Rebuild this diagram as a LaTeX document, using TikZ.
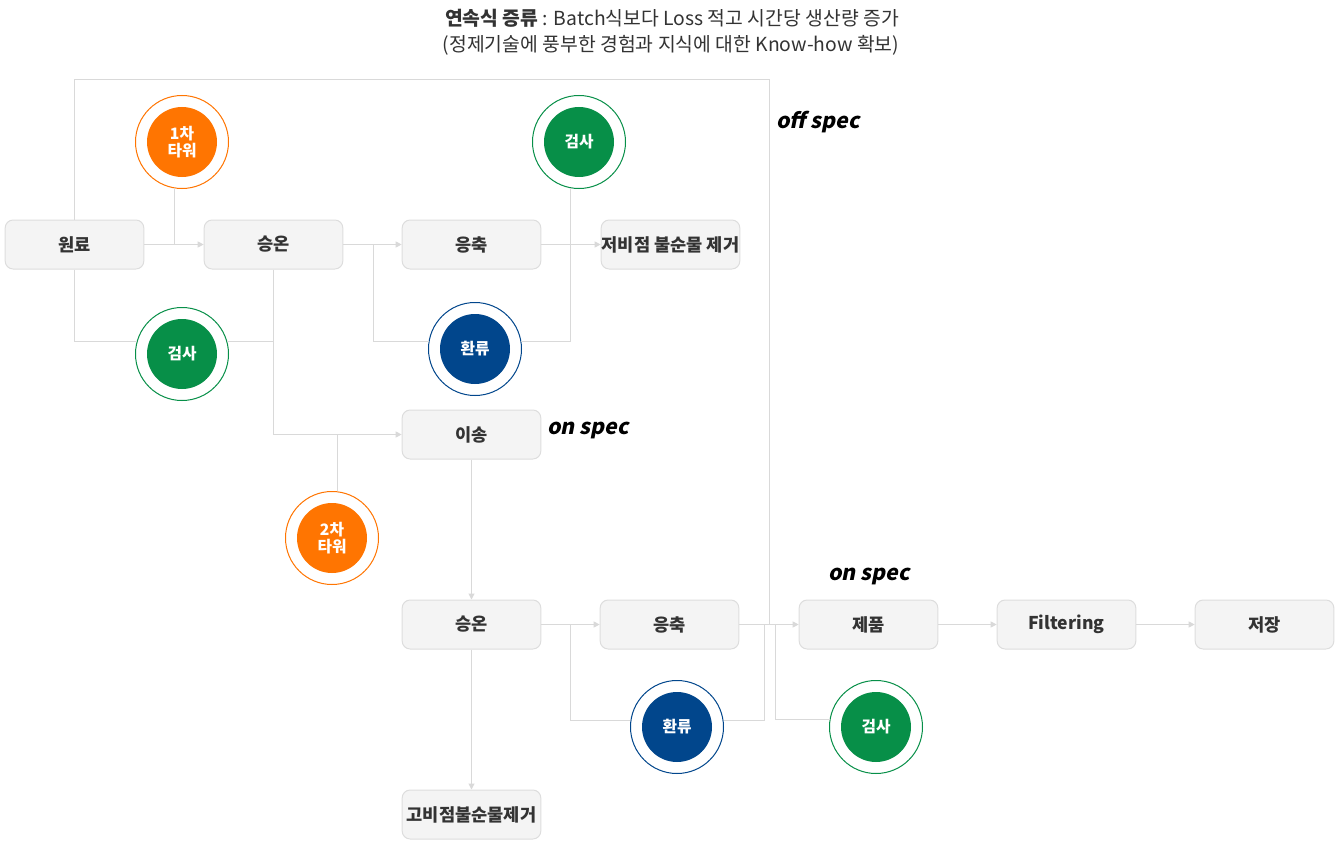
\documentclass[tikz,border=0pt]{standalone}
\usepackage{fontspec}
\setmainfont{Noto Sans CJK KR}
\newfontfamily\specfont[FakeSlant=0.2]{Noto Sans CJK KR}
\usetikzlibrary{arrows.meta}
\definecolor{boxfill}{HTML}{F4F4F4}
\definecolor{boxline}{HTML}{DDDDDD}
\definecolor{linec}{HTML}{D9D9D9}
\definecolor{txt}{HTML}{333333}
\definecolor{orng}{HTML}{FF7501}
\definecolor{grn}{HTML}{078F48}
\definecolor{blu}{HTML}{01468C}
\begin{document}
\begin{tikzpicture}[x=0.75pt,y=-0.75pt,
  box/.style={draw=boxline, fill=boxfill, rounded corners=6pt, minimum width=104pt, minimum height=36.75pt, line width=0.75pt, font=\fontsize{13.2}{15}\selectfont\bfseries, text=txt, inner sep=0pt},
  ring/.style={circle, draw=#1, line width=0.75pt, minimum size=69.75pt, inner sep=0pt, fill=white},
  disk/.style={circle, fill=#1, minimum size=52.5pt, inner sep=0pt, text=white, font=\fontsize{11.8}{12.2}\selectfont\bfseries, align=center},
  ln/.style={draw=linec, line width=0.75pt},
  arr/.style={ln, -{Triangle[length=4.5pt,width=4.5pt]}},
  spec/.style={font=\fontsize{16}{18}\specfont\bfseries, text=black}
]
\useasboundingbox (0,0) rectangle (1340,842);
\fill[white] (0,0) rectangle (1340,842);

% title
\node[font=\fontsize{14.5}{17}\selectfont, text=txt] (title1) at (672,18) {{\bfseries 연속식 증류} : Batch식보다 Loss 적고 시간당 생산량 증가};
\node[font=\fontsize{14.5}{17}\selectfont, text=txt] (title2) at (671,45) {(정제기술에 풍부한 경험과 지식에 대한 Know-how 확보)};

% boxes
\node[box] (won) at (74.5,244.5) {원료};
\node[box] (sg1) at (273.5,244.5) {승온};
\node[box] (ec1) at (471.5,244.5) {응축};
\node[box] (low) at (670.5,244.5) {저비점 불순물 제거};
\node[box] (is) at (471.5,434.5) {이송};
\node[box] (sg2) at (471.5,624.5) {승온};
\node[box] (ec2) at (669.5,624.5) {응축};
\node[box] (prod) at (868.5,624.5) {제품};
\node[box] (filt) at (1066.5,624.5) {Filtering};
\node[box] (store) at (1264.5,624.5) {저장};
\node[box] (high) at (471.5,814.5) {고비점불순물제거};

% circles
\node[ring=orng] (t1) at (182,142) {};
\node[disk=orng] (t1i) at (t1) {1차\\타워};
\node[ring=grn] (k2) at (579,142) {};
\node[disk=grn] (k2i) at (k2) {검사};
\node[ring=grn] (k1) at (182,354) {};
\node[disk=grn] (k1i) at (k1) {검사};
\node[ring=blu] (r1) at (475,349) {};
\node[disk=blu] (r1i) at (r1) {환류};
\node[ring=orng] (t2) at (332,538) {};
\node[disk=orng] (t2i) at (t2) {2차\\타워};
\node[ring=blu] (r2) at (677,727) {};
\node[disk=blu] (r2i) at (r2) {환류};
\node[ring=grn] (k3) at (876,727) {};
\node[disk=grn] (k3i) at (k3) {검사};

% spec labels
\node[spec] (offs) at (818,122) {off spec};
\node[spec] (ons1) at (588,430) {on spec};
\node[spec] (ons2) at (869,576) {on spec};

% coordinates
\coordinate (ostop) at (769,80);
\coordinate (osend) at (769,624.5);
\coordinate (b1) at (373,244.5);
\coordinate (b2) at (570,624.5);
\coordinate (j2) at (764,624.5);
\coordinate (b3) at (775,624.5);

% connectors
\draw[ln] (won.north) |- (ostop) -- (osend);
\draw[arr] (won.east) -- (sg1.west);
\draw[ln] (t1.261) -- (t1.261 |- won.east);
\draw[ln] (won.south) |- (k1.165);
\draw[ln] (k1.15) -- (k1.15 -| sg1.south);
\draw[arr] (sg1.south) |- (is.west);
\draw[ln] (t2.83) -- (t2.83 |- is.west);
\draw[arr] (sg1.east) -- (ec1.west);
\draw[ln] (b1) |- (r1.171);
\draw[ln] (r1.9) -| (k2.260);
\draw[arr] (ec1.east) -- (low.west);
\draw[arr] (is.south) -- (sg2.north);
\draw[arr] (sg2.south) -- (high.north);
\draw[arr] (sg2.east) -- (ec2.west);
\draw[ln] (b2) |- (r2.172);
\draw[ln] (r2.8) -| (j2);
\draw[arr] (ec2.east) -- (prod.west);
\draw[ln] (b3) |- (k3.171);
\draw[arr] (prod.east) -- (filt.west);
\draw[arr] (filt.east) -- (store.west);
\end{tikzpicture}
\end{document}
